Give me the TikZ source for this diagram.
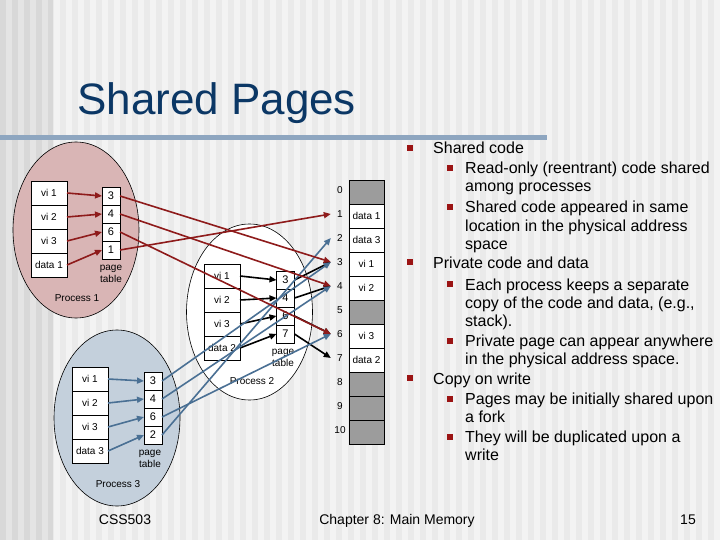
\documentclass[tikz,border=0pt]{standalone}
\usepackage{fontspec}
\setmainfont{Liberation Sans}
\usetikzlibrary{shapes.geometric, arrows.meta, positioning}
\definecolor{TitleBlue}{HTML}{0B3765}
\definecolor{RuleBlue}{HTML}{8EA6C0}
\definecolor{BulletRed}{HTML}{9B1414}
\definecolor{ArrowRed}{HTML}{8E1B1B}
\definecolor{ArrowBlue}{HTML}{4A7094}
\definecolor{ProcPink}{HTML}{D9B5B5}
\definecolor{ProcBlue}{HTML}{C4D0DC}
\definecolor{FrameGray}{HTML}{9C9C9C}
\definecolor{BgLight}{HTML}{F3F3F3}
\definecolor{BgMid}{HTML}{EAEAEA}
\definecolor{BgDark}{HTML}{D8D8D8}
\definecolor{BgDarkStripe}{HTML}{E4E4E4}
\tikzset{
    proc/.style={ellipse, draw=black, line width=0.6pt, minimum width=126pt, minimum height=176pt, inner sep=0pt},
    vpage/.style={draw=black, line width=0.7pt, fill=white, minimum width=36pt, minimum height=24pt, inner sep=0pt, outer sep=0pt, font=\fontsize{10}{12}\selectfont},
    ptentry/.style={draw=black, line width=0.7pt, fill=white, minimum width=18pt, minimum height=18pt, inner sep=0pt, outer sep=0pt, font=\fontsize{11}{12}\selectfont},
    pframe/.style={draw=black, line width=0.7pt, minimum width=35pt, minimum height=24pt, inner sep=0pt, outer sep=0pt, font=\fontsize{10}{12}\selectfont},
    fnum/.style={minimum width=18pt, inner sep=0pt, font=\fontsize{10}{12}\selectfont},
    lbl/.style={align=center, inner sep=0pt, font=\fontsize{10}{11.5}\selectfont},
    arr/.style={-{Triangle[length=7pt, width=6pt]}, line width=1.6pt},
    redarr/.style={arr, draw=ArrowRed},
    bluearr/.style={arr, draw=ArrowBlue},
    blackarr/.style={arr, draw=black},
    sqbullet/.style={rectangle, fill=BulletRed, minimum size=6pt, inner sep=0pt},
    lvlone/.style={anchor=base west, align=left, inner sep=0pt, font=\fontsize{16}{18}\selectfont},
    lvltwo/.style={lvlone},
    foot/.style={anchor=base, inner sep=0pt, font=\fontsize{14}{16}\selectfont}
}

\begin{document}
\begin{tikzpicture}[x=1pt, y=-1pt]
    % Slide background with stripes
    \fill[BgMid] (0,0) rectangle (720,540);
    \foreach \x in {54,66,...,714}
        \fill[BgLight] (\x,0) rectangle ++(6,540);
    \fill[BgDark] (0,0) rectangle (53,540);
    \foreach \x in {6,18,...,42}
        \fill[BgDarkStripe] (\x,0) rectangle ++(6,540);

    % Title and rule
    \node[anchor=base west, inner sep=0pt, text=TitleBlue, font=\fontsize{44}{50}\selectfont] (title) at (77,115) {Shared Pages};
    \fill[RuleBlue] (0,135) rectangle (547,140);

    % Processes
    \node[proc, fill=ProcPink] (procA) at (76,230) {};
    \node[proc, fill=white] (procB) at (249.5,312) {};
    \node[proc, fill=ProcBlue] (procC) at (117,418) {};

    % Process 1
    \foreach \t [count=\i] in {vi 1, vi 2, vi 3, data 1}
        \node[vpage] (vA\i) at (49,169+24*\i) {\t};
    \foreach \t [count=\i] in {3, 4, 6, 1}
        \node[ptentry] (tA\i) at (111,178+18*\i) {\t};
    \node[lbl] (ptlabA) at (111,274) {page\\table};
    \node[lbl] (namA) at (77,298) {Process 1};

    % Process 2
    \foreach \t [count=\i] in {vi 1, vi 2, vi 3, data 2}
        \node[vpage] (vB\i) at (222,252+24*\i) {\t};
    \foreach \t [count=\i] in {3, 4, 6, 7}
        \node[ptentry] (tB\i) at (285.5,262+18*\i) {\t};
    \node[lbl] (ptlabB) at (283,358) {page\\table};
    \node[lbl] (namB) at (252,381) {Process 2};

    % Process 3
    \foreach \t [count=\i] in {vi 1, vi 2, vi 3, data 3}
        \node[vpage] (vC\i) at (90,355+24*\i) {\t};
    \foreach \t [count=\i] in {3, 4, 6, 2}
        \node[ptentry] (tC\i) at (153,363+18*\i) {\t};
    \node[lbl] (ptlabC) at (150,459) {page\\table};
    \node[lbl] (namC) at (118,484) {Process 3};

    % Physical memory
    \foreach \t/\c [count=\i from 0] in {{}/FrameGray, data 1/white, data 3/white, vi 1/white, vi 2/white, {}/FrameGray, vi 3/white, data 2/white, {}/FrameGray, {}/FrameGray, {}/FrameGray}
        \node[pframe, fill=\c] (fr\i) at (366.5,192+24*\i) {\t};
    \foreach \i in {0,...,10}
        \node[fnum] (fn\i) at (340,190+24*\i) {\i};

    % Page table lookups
    \foreach \i in {1,...,4} {
        \draw[blackarr] (vB\i.east) -- (tB\i.west);
        \draw[bluearr] (vC\i.east) -- (tC\i.west);
        \draw[redarr] (vA\i.east) -- (tA\i.west);
    }
    \foreach \a/\b in {1/3, 2/4, 3/6, 4/7}
        \draw[blackarr] (tB\a.east) -- (fn\b.west);
    \foreach \a/\b in {1/3, 2/4, 3/6, 4/2}
        \draw[bluearr] (tC\a.east) -- (fn\b.west);
    \foreach \a/\b in {1/3, 2/4, 3/6, 4/1}
        \draw[redarr] (tA\a.east) -- (fn\b.west);

    % Bullet text (base = last line)
    \node[sqbullet] (bA) at (410,148) {};
    \node[lvlone] (shared) at (433,154) {Shared code};
    \node[sqbullet] (bA1) at (450,168) {};
    \node[lvltwo] (readonly) at (465,192) {Read-only (reentrant) code shared\\among processes};
    \node[sqbullet] (bA2) at (450,207) {};
    \node[lvltwo] (sameloc) at (465,249) {Shared code appeared in same\\location in the physical address\\space};
    \node[sqbullet] (bB) at (410,262) {};
    \node[lvlone] (private) at (433,268) {Private code and data};
    \node[sqbullet] (bB1) at (450,284) {};
    \node[lvltwo] (sepcopy) at (465,326) {Each process keeps a separate\\copy of the code and data, (e.g.,\\stack).};
    \node[sqbullet] (bB2) at (450,341) {};
    \node[lvltwo] (anywhere) at (465,364) {Private page can appear anywhere\\in the physical address space.};
    \node[sqbullet] (bC) at (410,378) {};
    \node[lvlone] (cow) at (433,384) {Copy on write};
    \node[sqbullet] (bC1) at (450,399) {};
    \node[lvltwo] (fork) at (465,422) {Pages may be initially shared upon\\a fork};
    \node[sqbullet] (bC2) at (450,437) {};
    \node[lvltwo] (dup) at (465,460) {They will be duplicated upon a\\write};

    % Footer
    \node[foot] (course) at (125,524) {CSS503};
    \node[foot] (chapter) at (397,524) {Chapter 8: Main Memory};
    \node[foot] (pageno) at (688,524) {15};
\end{tikzpicture}
\end{document}
